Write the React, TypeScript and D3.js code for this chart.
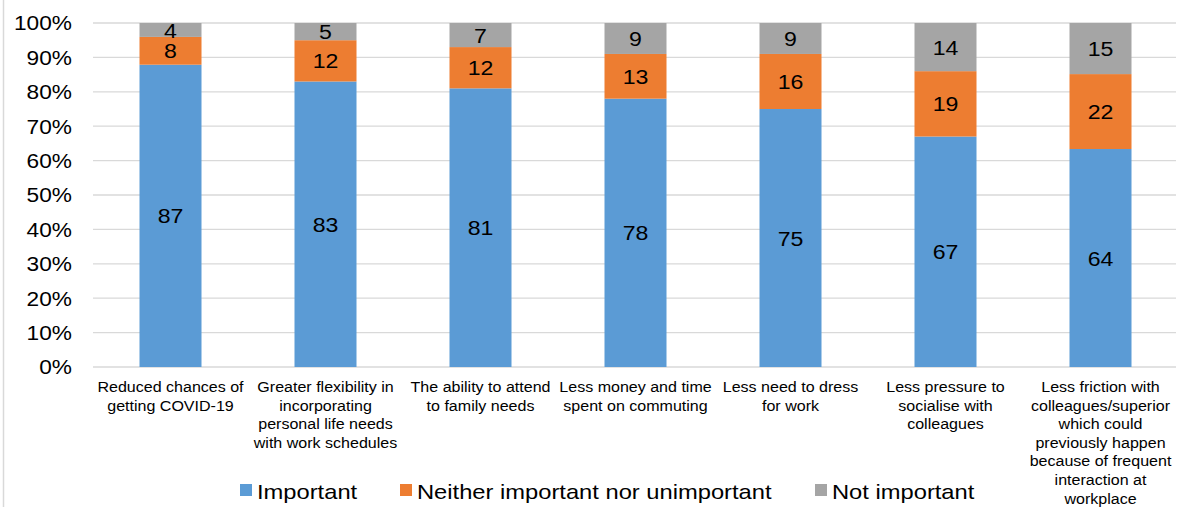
import React from "react";
import * as d3 from "d3";

const categories: string[][] = [
  ["Reduced chances of", "getting COVID-19"],
  ["Greater flexibility in", "incorporating", "personal life needs", "with work schedules"],
  ["The ability to attend", "to family needs"],
  ["Less money and time", "spent on commuting"],
  ["Less need to dress", "for work"],
  ["Less pressure to", "socialise with", "colleagues"],
  ["Less friction with", "colleagues/superior", "which could", "previously happen", "because of frequent", "interaction at", "workplace"],
];

const important = [87, 83, 81, 78, 75, 67, 64];
const neither = [8, 12, 12, 13, 16, 19, 22];
const notImportant = [4, 5, 7, 9, 9, 14, 15];

const seriesNames = ["Important", "Neither important nor unimportant", "Not important"];
const seriesColors = ["#5B9BD5", "#ED7D31", "#A5A5A5"];
const yTicks = [0, 10, 20, 30, 40, 50, 60, 70, 80, 90, 100];

const W = 1178;
const H = 507;
const font = "'Liberation Sans', Arial, sans-serif";
const SX = 1.1; // slightly wide lettering

type STextProps = {
  x: number;
  y: number;
  size: number;
  anchor?: "start" | "middle" | "end";
  dy?: string;
  sx?: number;
  children: React.ReactNode;
};

function SText({ x, y, size, anchor = "start", dy, sx = SX, children }: STextProps) {
  return (
    <text
      transform={`translate(${x},${y}) scale(${sx},1)`}
      textAnchor={anchor}
      fontSize={size}
      dy={dy}
      fill="#000"
    >
      {children}
    </text>
  );
}

export default function App() {
  const rows = categories.map((_, i) => ({
    i,
    a: important[i],
    b: neither[i],
    c: notImportant[i],
  }));
  const stack = d3
    .stack<{ i: number; a: number; b: number; c: number }>()
    .keys(["a", "b", "c"])
    .offset(d3.stackOffsetExpand);
  const layers = stack(rows);

  const x = d3
    .scaleBand<number>()
    .domain(d3.range(categories.length))
    .range([93, 1178])
    .paddingInner(0.6)
    .paddingOuter(0.3);
  const y = d3.scaleLinear().domain([0, 1]).range([367, 23]);

  const legendX = [240, 400, 815];

  return (
    <svg
      width={W}
      height={H}
      style={{ position: "absolute", left: 0, top: 0, display: "block" }}
      fontFamily={font}
    >
      <rect x={0} y={0} width={W} height={H} fill="#fff" />
      <line x1={3.5} x2={3.5} y1={0} y2={H} stroke="#d9d9d9" strokeWidth={1.5} />
      {yTicks.map((t) => (
        <g key={t}>
          <line
            x1={93}
            x2={1176}
            y1={y(t / 100)}
            y2={y(t / 100)}
            stroke="#d9d9d9"
            strokeWidth={t === 0 ? 1.5 : 1.3}
          />
          <SText x={72} y={y(t / 100)} dy="0.35em" anchor="end" size={21} sx={1.08}>
            {t}%
          </SText>
        </g>
      ))}
      {layers.map((layer, li) => (
        <g key={li}>
          {layer.map((d, ci) => {
            const bx = x(ci)!;
            const y0 = y(d[0]);
            const y1 = y(d[1]);
            const val = [important, neither, notImportant][li][ci];
            return (
              <g key={ci}>
                <rect
                  x={bx}
                  y={y1}
                  width={x.bandwidth()}
                  height={y0 - y1}
                  fill={seriesColors[li]}
                />
                <SText
                  x={bx + x.bandwidth() / 2}
                  y={(y0 + y1) / 2}
                  dy="0.36em"
                  anchor="middle"
                  size={21}
                >
                  {val}
                </SText>
              </g>
            );
          })}
        </g>
      ))}
      {categories.map((lines, ci) => (
        <g key={ci}>
          {lines.map((l, k) => (
            <SText
              key={k}
              x={x(ci)! + x.bandwidth() / 2}
              y={392 + k * 18.6}
              anchor="middle"
              size={15}
              sx={1.07}
            >
              {l}
            </SText>
          ))}
        </g>
      ))}
      {seriesNames.map((n, i) => (
        <g key={n}>
          <rect x={legendX[i]} y={484} width={12} height={12} fill={seriesColors[i]} />
          <SText x={legendX[i] + 17} y={498.5} size={21} sx={1.13}>
            {n}
          </SText>
        </g>
      ))}
    </svg>
  );
}
